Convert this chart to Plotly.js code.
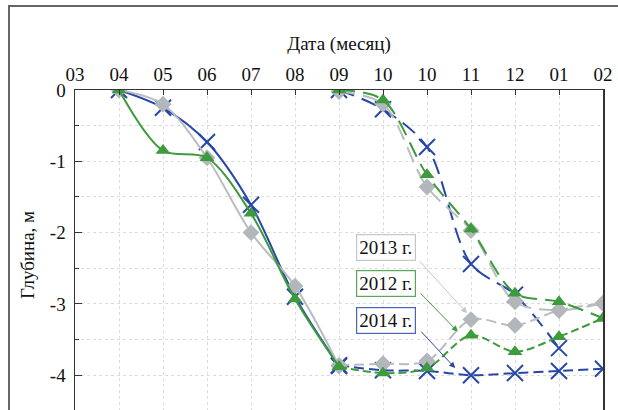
<!DOCTYPE html>
<html>
<head>
<meta charset="utf-8">
<script src="https://cdn.plot.ly/plotly-3.0.1.min.js"></script>
<style>
html,body{margin:0;padding:0;overflow:hidden;background:#fff;}
#chart{width:618px;height:430px;}
</style>
</head>
<body>
<div id="chart"></div>
<script>
// Month tick labels (index 0..12)
const monthTicks = ['03','04','05','06','07','08','09','10','10','11','12','01','02'];
const monthIdx = [0,1,2,3,4,5,6,7,8,9,10,11,12];

// Spring thawing (04..09), solid lines
const springIdx = [1,2,3,4,5,6];
const spring2012 = [0, -0.85, -0.95, -1.73, -2.93, -3.88];
const spring2013 = [0, -0.20, -0.95, -2.00, -2.75, -3.87];
const spring2014 = [0, -0.25, -0.73, -1.61, -2.90, -3.87];

// Autumn freezing (09..02), dashed lines
const autumnIdx = [6,7,8,9,10,11,12];
const top2012 = [0, -0.14, -1.19, -1.95, -2.85, -2.97, -3.20];
const top2013 = [-0.02, -0.20, -1.36, -1.97, -2.97, -3.09, -2.99];
const top2014 = [0, -0.27, -0.80, -2.44, -2.87, -3.62, null];
const bot2012 = [-3.88, -3.97, -3.90, -3.44, -3.67, -3.46, -3.20];
const bot2013 = [-3.86, -3.84, -3.80, -3.22, -3.30, -3.09, -2.99];
const bot2014 = [-3.86, -3.93, -3.94, -4.00, -3.97, -3.94, -3.91];

const yTickVals = [0,-1,-2,-3,-4];
const yTickText = ['0','-1','-2','-3','-4'];

const FONT = '"Liberation Serif", "Times New Roman", serif';
const C12 = '#3d9a3d', C13 = '#b9bdc1', C14 = '#2747a8';
const M12 = {symbol:'triangle-up', size:13, color:C12};
const M13 = {symbol:'diamond', size:13, color:'#b3b7bb'};
const M14 = {symbol:'x-thin-open', size:16, line:{color:C14, width:2}, color:C14};

function tr(x, y, color, marker, dash){
  return {x:x, y:y, type:'scatter', mode:'lines+markers', showlegend:false,
    line:{color:color, width:2, shape:'spline', smoothing:0.9, dash:dash},
    marker:marker, connectgaps:false};
}

const traces = [
  tr(springIdx, spring2014, C14, M14, 'solid'),
  tr(autumnIdx, top2014, C14, M14, '16px,8px'),
  tr(autumnIdx, bot2014, C14, M14, '10px,5px'),
  tr(springIdx, spring2013, C13, M13, 'solid'),
  tr(autumnIdx, top2013, C13, M13, '16px,8px'),
  tr(autumnIdx, bot2013, C13, M13, '10px,5px'),
  tr(springIdx, spring2012, C12, M12, 'solid'),
  tr(autumnIdx, top2012, C12, M12, '16px,8px'),
  tr(autumnIdx, bot2012, C12, M12, '8px,4px'),
];

function box(text, x, y, color){
  return {text:text, x:x, y:y, xref:'x', yref:'y', showarrow:false,
    font:{family:FONT, size:19, color:'#111'},
    bgcolor:'#fff', bordercolor:color, borderwidth:1.2, borderpad:2};
}
function arrow(ax, ay, x, y, color){
  return {text:'', x:x, y:y, ax:ax, ay:ay, xref:'x', yref:'y', axref:'x', ayref:'y',
    showarrow:true, arrowhead:2, arrowsize:1.2, arrowwidth:1, arrowcolor:color};
}

const annotations = [
  box('2013 г.', 7.07, -2.21, '#c4c6c8'),
  box('2012 г.', 7.07, -2.71, '#5aa55a'),
  box('2014 г.', 7.07, -3.23, '#4a64b8'),
  arrow(7.80, -2.38, 8.91, -3.13, '#c4c6c8'),
  arrow(7.82, -2.83, 8.70, -3.39, C12),
  arrow(7.84, -3.37, 8.64, -3.90, '#34449a'),
];

const layout = {
  width:618, height:430,
  margin:{l:75, r:15, t:90, b:10},
  paper_bgcolor:'#fff', plot_bgcolor:'#fff',
  font:{family:FONT, size:19, color:'#111'},
  xaxis:{
    side:'top', range:[0,12], tickmode:'array', tickvals:monthIdx, ticktext:monthTicks,
    ticks:'inside', ticklen:5, tickcolor:'#333', showline:true, linecolor:'#333', linewidth:1.5,
    showgrid:true, gridcolor:'#dcdcdc', griddash:'dot', gridwidth:1, zeroline:false,
    title:{text:'Дата (месяц)', font:{family:FONT, size:19}, standoff:8},
    tickfont:{family:FONT, size:19}
  },
  yaxis:{
    range:[-4.628,0], tickmode:'array', tickvals:yTickVals, ticktext:yTickText,
    ticks:'inside', ticklen:7, tickcolor:'#333', showline:true, linecolor:'#333', linewidth:1.5,
    mirror:true, showgrid:true, gridcolor:'#dcdcdc', griddash:'dot', zeroline:false,
    ticklabelstandoff:4,
    minor:{tickmode:'linear', tick0:0, dtick:0.5, ticks:'inside', ticklen:4, tickcolor:'#333',
      showgrid:true, gridcolor:'#dcdcdc', griddash:'dot'},
    title:{text:'Глубина, м', font:{family:FONT, size:19}, standoff:10},
    tickfont:{family:FONT, size:19}
  },
  annotations:annotations,
  shapes:[
    {type:'rect', xref:'paper', yref:'paper', x0:-0.125, x1:1.05, y0:-0.05, y1:1.2545,
     line:{color:'#666', width:2}, fillcolor:'rgba(0,0,0,0)', layer:'below'}
  ]
};

Plotly.newPlot('chart', traces, layout, {staticPlot:true, displayModeBar:false});
</script>
</body>
</html>
